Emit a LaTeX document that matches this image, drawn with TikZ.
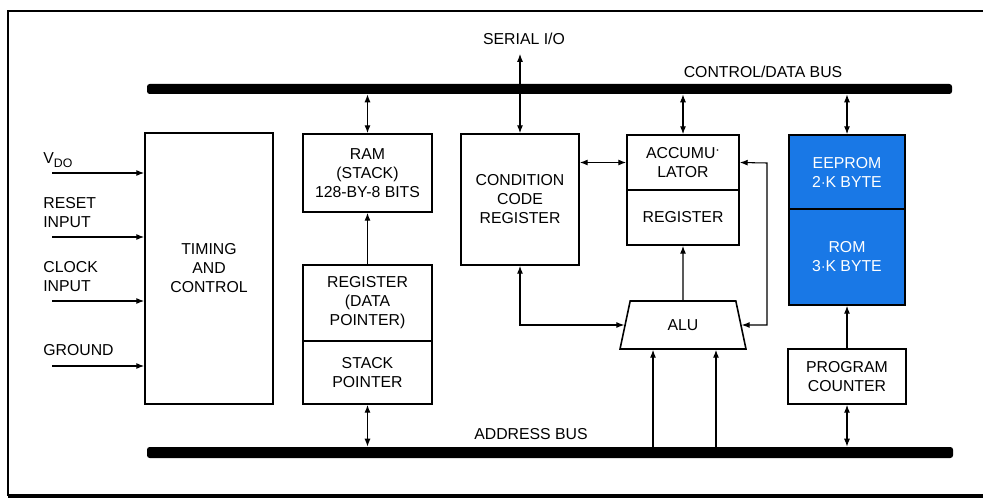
\documentclass[tikz,border=0pt]{standalone}
\usepackage{fontspec}
\setmainfont{Liberation Sans}
\usepackage{xcolor}
\usetikzlibrary{arrows.meta,shapes.geometric}
\definecolor{romblue}{RGB}{25,120,230}

\tikzset{
  box/.style={draw, line width=0.9pt, align=center, inner sep=0pt, font=\fontsize{9}{10.8}\selectfont},
  boxsize/.style 2 args={minimum width=#1*0.02cm, minimum height=#2*0.02cm},
  bus/.style={fill=black, inner sep=0pt, rounded corners=1.5pt},
  lbl/.style={inner sep=0pt, align=left, font=\fontsize{9}{10.8}\selectfont},
  arrow/.style={line width=0.6pt, -{Latex[length=4.5pt,width=3.4pt]}},
  biarrow/.style={line width=0.6pt, {Latex[length=4.5pt,width=3.4pt]}-{Latex[length=4.5pt,width=3.4pt]}}
}

\begin{document}
\begin{tikzpicture}[x=0.02cm, y=-0.02cm]
  \useasboundingbox (0,0) rectangle (983,500);
  % Frame round the figure
  \draw[line width=0.8pt] (983,11) -- (8,11) -- (8,496);
  \draw[line width=2.4pt] (8,496) -- (983,496);

  % Buses
  \node[bus, boxsize={805}{10}] (cbus) at (549.5,89) {};
  \node[bus, boxsize={806}{11}] (abus) at (550,452.5) {};
  \node[lbl] (cbuslbl) at (763,72) {CONTROL/DATA BUS};
  \node[lbl] (abuslbl) at (531,434) {ADDRESS BUS};
  \node[lbl] (sio) at (524,39) {SERIAL I/O};

  % Blocks
  \node[box, boxsize={128}{271}] (timing) at (209,268.5) {TIMING\\AND\\CONTROL};
  \node[box, boxsize={129}{78}] (ram) at (367.5,173) {RAM\\(STACK)\\128-BY-8 BITS};
  \node[box, boxsize={129}{76}] (dptr) at (367.5,303) {REGISTER\\(DATA\\POINTER)};
  \node[box, boxsize={129}{63}] (sptr) at (367.5,372.5) {STACK\\POINTER};
  \node[box, boxsize={118}{131}] (ccr) at (520,199.5) {CONDITION\\CODE\\REGISTER};
  \node[box, boxsize={112}{55}] (acc) at (683,162.5) {ACCUMU\raisebox{0.5ex}{$\cdot$}\\LATOR};
  \node[box, boxsize={112}{55}] (areg) at (683,217.5) {REGISTER};
  \node[box, trapezium, trapezium angle=75, trapezium stretches=true,
        boxsize={126}{48}] (alu) at (683,325) {ALU};
  \node[box, fill=romblue, text=white, boxsize={116}{74}] (eeprom) at (847,172) {EEPROM\\2$\cdot$K BYTE};
  \node[box, fill=romblue, text=white, boxsize={116}{96}] (rom) at (847,257) {ROM\\3$\cdot$K BYTE};
  \node[box, boxsize={118}{55}] (pc) at (847,376.5) {PROGRAM\\COUNTER};

  % Inputs to timing and control
  \foreach \name/\txt/\ty/\ay in {vdo/{V\raisebox{-0.4ex}{\fontsize{7}{7}\selectfont DO}}/160/173,
      reset/{RESET\\INPUT}/213/237, clock/{CLOCK\\INPUT}/277/301, gnd/{GROUND}/350/366}{
    \node[lbl, anchor=west] (\name) at (43,\ty) {\txt};
    \coordinate (\name in) at (52,\ay);
    \draw[arrow] (\name in) -- (\name in -| timing.west);
  }

  % Connections to the control/data bus
  \draw[biarrow] (cbus.south -| ram.north) -- (ram.north);
  \draw[arrow, shorten >=5pt] (cbus.north -| ccr.north) -- (ccr.north |- sio.south);
  \draw[arrow] (cbus.south -| ccr.north) -- (ccr.north);
  \draw[biarrow] (cbus.south -| acc.north) -- (acc.north);
  \draw[biarrow] (cbus.south -| eeprom.north) -- (eeprom.north);

  % Internal paths
  \draw[arrow] (dptr) -- (ram);
  \draw[biarrow] (ccr.east |- acc.west) -- (acc.west);
  \draw[arrow] (alu) -- (areg);
  \coordinate (loop) at (767,163);
  \draw[biarrow] (acc.east) -- (loop) |- (alu.east);
  \draw[biarrow] (ccr.south) |- (alu.west);
  \draw[arrow] (pc) -- (rom);

  % Connections to the address bus
  \draw[biarrow] (sptr.south) -- (sptr.south |- abus.north);
  \draw[arrow] ([xshift=-0.6cm]alu.south |- abus.north) -- ([xshift=-0.6cm]alu.south);
  \draw[arrow] ([xshift=0.66cm]alu.south |- abus.north) -- ([xshift=0.66cm]alu.south);
  \draw[biarrow] (pc.south) -- (pc.south |- abus.north);
\end{tikzpicture}
\end{document}
